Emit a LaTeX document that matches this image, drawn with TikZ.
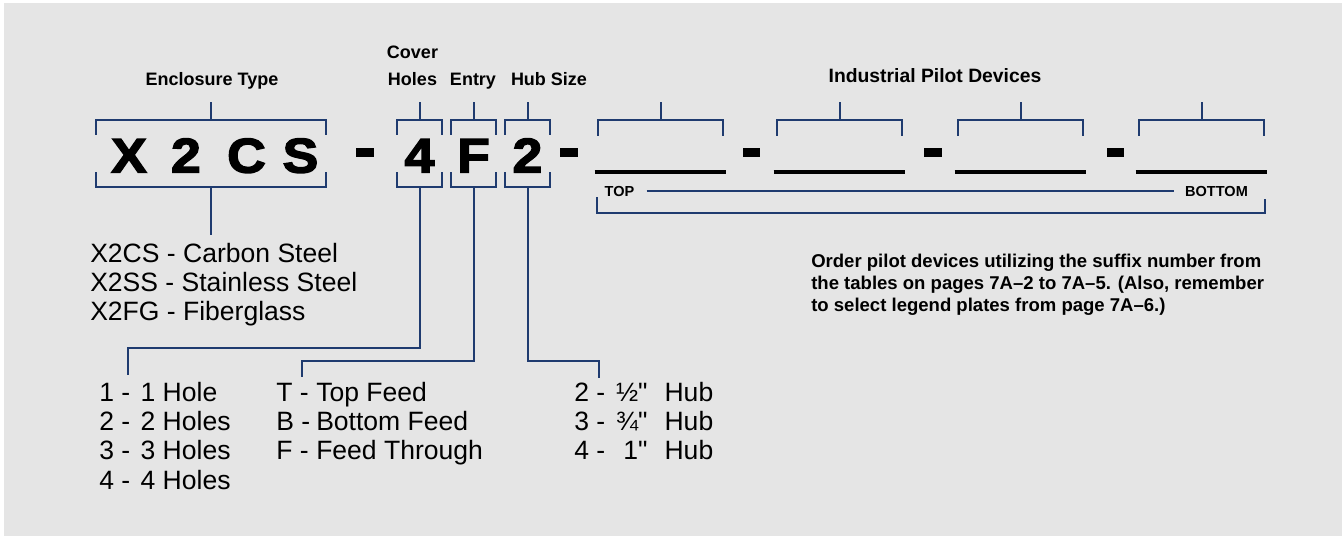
\documentclass[tikz,border=0pt]{standalone}
\usepackage{fontspec}
\usepackage{array}
\usetikzlibrary{calc}
\setmainfont{Liberation Sans}
\newfontfamily\heavyfont[FakeBold=3,FakeStretch=1.1]{Liberation Sans}
\newfontfamily\quotefont[Ligatures=ResetAll]{Liberation Sans}
\definecolor{navy}{HTML}{1F3B6F}
\definecolor{bg}{HTML}{E5E5E5}
\newcommand{\inchmark}{{\quotefont\char34}}
\begin{document}
\begin{tikzpicture}[x=0.75pt,y=-0.75pt,
  conn/.style={draw=navy, line width=1.5pt},
  thinconn/.style={draw=navy, line width=1.1pt},
  ul/.style={draw=black, line width=3pt},
  dashbar/.style={fill=black},
  lbl/.style={font=\bfseries\fontsize{13.5}{20.25}\selectfont, inner sep=0, anchor=base},
  small/.style={font=\bfseries\fontsize{10.9}{13}\selectfont, inner sep=0, anchor=base},
  big/.style={font=\heavyfont\bfseries\fontsize{36.5}{40}\selectfont, inner sep=0, anchor=base},
  list/.style={font=\fontsize{19.9}{22.1}\selectfont, inner sep=0, anchor=base west},
  para/.style={font=\bfseries\fontsize{13.9}{16.5}\selectfont, inner sep=0, anchor=base west},
  brkbox/.style={inner sep=0, draw=none, minimum width=#1, minimum height=50.25pt},
  slot/.style={inner sep=0, draw=none, minimum width=98.25pt, minimum height=39pt},
]
\fill[white] (0,0) rectangle (1342,536);
\fill[bg] (4,3) rectangle (1342,536);
\useasboundingbox (0,0) rectangle (1342,536);

% --- labels on top
\node[lbl] (encl) at (212,85) {Enclosure Type};
\node[lbl] (cover) at (412.5,58) {\begin{tabular}[t]{@{}c@{}}Cover\\Holes\end{tabular}};
\node[lbl] (entry) at (473,85) {Entry};
\node[lbl] (hubsize) at (549,85) {Hub Size};
\node[lbl, font=\bfseries\fontsize{14.5}{16}\selectfont] (ipd) at (935,82) {Industrial Pilot Devices};

% --- bracket boxes
\node[brkbox=172.5pt] (bx) at (211,153.5) {};
\node[brkbox=33.75pt] (b4) at (419.5,153.5) {};
\node[brkbox=33.75pt] (bF) at (473.5,153.5) {};
\node[brkbox=33.75pt] (b2) at (527.5,153.5) {};
\foreach \n in {bx,b4,bF,b2}{
  \draw[conn] (\n.north west) ++(0,15) -- (\n.north west) -- (\n.north east) -- ++(0,15);
  \draw[conn] (\n.south west) ++(0,-15) -- (\n.south west) -- (\n.south east) -- ++(0,-15);
  \draw[conn] (\n.north) -- ++(0,-18);
}

% --- big code letters
\node[big] (cx) at (129,172.5) {X};
\node[big] (c2) at (186,172.5) {2};
\node[big] (cc) at (246.5,172.5) {C};
\node[big] (cs) at (300.5,172.5) {S};
\node[big] (c4) at (419.5,172.5) {4};
\node[big] (cf) at (473.5,172.5) {F};
\node[big] (ch) at (527.5,172.5) {2};

% --- dashes
\fill[dashbar] (356,148) rectangle (374,157);
\fill[dashbar] (560,148) rectangle (578,157);
\fill[dashbar] (743,148) rectangle (760,157);
\fill[dashbar] (924,148) rectangle (942,157);
\fill[dashbar] (1107,148) rectangle (1124,157);

% --- pilot device slots
\node[slot] (p1) at (660.5,146) {};
\node[slot] (p2) at (839.5,146) {};
\node[slot] (p3) at (1020.5,146) {};
\node[slot] (p4) at (1201.5,146) {};
\foreach \n in {p1,p2,p3,p4}{
  \draw[conn] ($(\n.north west)+(3,16)$) -- ($(\n.north west)+(3,0)$) -- ($(\n.north east)+(-3,0)$) -- ++(0,16);
  \draw[conn] (\n.north) -- ++(0,-18);
  \draw[ul] (\n.south west) -- (\n.south east);
}

% --- top / bottom
\node[small] (top) at (619.5,196) {TOP};
\node[small] (bottom) at (1216.5,196) {BOTTOM};
\draw[thinconn, shorten <=9pt, shorten >=8pt] (top.east) -- (bottom.west);
\draw[conn] ($(p1.south west)+(2,25)$) -- ++(0,16) -| ($(p4.south east)+(-2,27)$);

% --- note
\node[para] (note) at (811,267) {\begin{tabular}[t]{@{}l@{}}Order pilot devices utilizing the suffix number from\\
the tables on pages 7A--2 to 7A--5. (Also, remember\\
to select legend plates from page 7A--6.)\end{tabular}};

% --- lists
\node[list] (enclist) at (90,262) {\begin{tabular}[t]{@{}l@{}}X2CS - Carbon Steel\\X2SS - Stainless Steel\\X2FG - Fiberglass\end{tabular}};
\node[list] (holes) at (99,401) {\begin{tabular}[t]{@{}p{31pt}@{}l@{}}1 -& 1 Hole\\2 -& 2 Holes\\3 -& 3 Holes\\4 -& 4 Holes\end{tabular}};
\node[list] (feeds) at (276,401) {\begin{tabular}[t]{@{}p{30pt}@{}l@{}}T -& Top Feed\\B -& Bottom Feed\\F -& Feed Through\end{tabular}};
\node[list] (hubs) at (574,401) {\begin{tabular}[t]{@{}p{30pt}@{}>{\raggedleft\arraybackslash}p{25pt}@{\hspace{12.75pt}}l@{}}2 -& ½\inchmark& Hub\\3 -& ¾\inchmark& Hub\\4 -& 1\inchmark& Hub\end{tabular}};

% --- connectors
\coordinate (holesend) at (128,375);
\coordinate (feedsend) at (302,377);
\coordinate (hubsend) at (599,378);
\draw[conn] (bx.south) -- ($(bx.south |- enclist.north)+(0,-6)$);
\draw[conn] (b4.south) -- ++(0,161) -| (holesend);
\draw[conn] (bF.south) -- ++(0,174) -| (feedsend);
\draw[conn] (b2.south) -- ++(0,174) -| (hubsend);
\end{tikzpicture}
\end{document}
